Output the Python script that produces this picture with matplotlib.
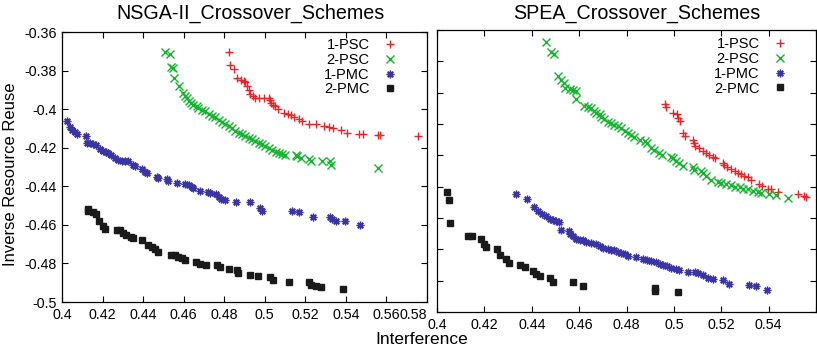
import matplotlib
matplotlib.use("Agg")
import matplotlib.pyplot as plt

plt.rcParams["font.family"] = ["Liberation Sans", "DejaVu Sans"]
plt.rcParams["axes.unicode_minus"] = False

series_names = ["1-PSC", "2-PSC", "1-PMC", "2-PMC"]

# ---- NSGA-II panel ----
nsga_psc1_x = [0.4822, 0.4827, 0.4846, 0.4863, 0.4883, 0.4896, 0.4904, 0.4912, 0.4921, 0.4929,
               0.4942, 0.4954, 0.4970, 0.4995, 0.5020, 0.5025, 0.5031, 0.5041, 0.5048, 0.5064,
               0.5094, 0.5114, 0.5127, 0.5143, 0.5168, 0.5185, 0.5218, 0.5251, 0.5292, 0.5317,
               0.5338, 0.5374, 0.5407, 0.5465, 0.5482, 0.5559, 0.5569, 0.5754]
nsga_psc1_y = [-0.3704, -0.3770, -0.3793, -0.3838, -0.3848, -0.3852, -0.3860, -0.3881, -0.3898, -0.3921,
               -0.3933, -0.3940, -0.3940, -0.3940, -0.3942, -0.3952, -0.3968, -0.3978, -0.3985, -0.3999,
               -0.4020, -0.4023, -0.4030, -0.4042, -0.4051, -0.4060, -0.4077, -0.4077, -0.4089, -0.4094,
               -0.4100, -0.4107, -0.4124, -0.4127, -0.4129, -0.4134, -0.4134, -0.4138]

nsga_psc2_x = [0.4508, 0.4533, 0.4538, 0.4545, 0.4554, 0.4579, 0.4596, 0.4607, 0.4615, 0.4624,
               0.4635, 0.4648, 0.4665, 0.4673, 0.4690, 0.4706, 0.4723, 0.4739, 0.4756, 0.4772,
               0.4789, 0.4805, 0.4822, 0.4838, 0.4855, 0.4871, 0.4888, 0.4904, 0.4921, 0.4937,
               0.4954, 0.4970, 0.4987, 0.5003, 0.5020, 0.5036, 0.5053, 0.5069, 0.5086, 0.5102,
               0.5152, 0.5160, 0.5176, 0.5218, 0.5229, 0.5284, 0.5322, 0.5325, 0.5556]
nsga_psc2_y = [-0.3704, -0.3713, -0.3779, -0.3787, -0.3839, -0.3878, -0.3916, -0.3930, -0.3944, -0.3956,
               -0.3968, -0.3978, -0.3985, -0.3996, -0.4003, -0.4011, -0.4025, -0.4034, -0.4042, -0.4055,
               -0.4065, -0.4077, -0.4086, -0.4100, -0.4112, -0.4121, -0.4129, -0.4138, -0.4147, -0.4155,
               -0.4164, -0.4173, -0.4181, -0.4190, -0.4199, -0.4211, -0.4221, -0.4228, -0.4233, -0.4237,
               -0.4238, -0.4245, -0.4254, -0.4256, -0.4271, -0.4271, -0.4271, -0.4291, -0.4303]

nsga_pmc1_x = [0.4026, 0.4038, 0.4051, 0.4063, 0.4076, 0.4117, 0.4124, 0.4137, 0.4153, 0.4170,
               0.4186, 0.4203, 0.4216, 0.4228, 0.4244, 0.4261, 0.4277, 0.4294, 0.4310, 0.4327,
               0.4351, 0.4360, 0.4393, 0.4409, 0.4417, 0.4467, 0.4475, 0.4516, 0.4525, 0.4569,
               0.4607, 0.4624, 0.4640, 0.4648, 0.4678, 0.4718, 0.4728, 0.4761, 0.4772, 0.4784,
               0.4805, 0.4858, 0.4926, 0.4975, 0.4987, 0.5135, 0.5168, 0.5238, 0.5322, 0.5333,
               0.5350, 0.5396, 0.5470]
nsga_pmc1_y = [-0.4063, -0.4094, -0.4107, -0.4117, -0.4129, -0.4141, -0.4173, -0.4176, -0.4181, -0.4185,
               -0.4204, -0.4216, -0.4221, -0.4225, -0.4238, -0.4251, -0.4263, -0.4268, -0.4271, -0.4271,
               -0.4291, -0.4297, -0.4311, -0.4325, -0.4332, -0.4350, -0.4358, -0.4363, -0.4372, -0.4384,
               -0.4389, -0.4395, -0.4402, -0.4407, -0.4424, -0.4429, -0.4433, -0.4438, -0.4454, -0.4467,
               -0.4473, -0.4481, -0.4481, -0.4511, -0.4528, -0.4528, -0.4533, -0.4559, -0.4559, -0.4568,
               -0.4580, -0.4580, -0.4603]

nsga_pmc2_x = [0.4129, 0.4129, 0.4153, 0.4170, 0.4180, 0.4203, 0.4211, 0.4269, 0.4285, 0.4302,
               0.4315, 0.4338, 0.4351, 0.4393, 0.4426, 0.4442, 0.4459, 0.4475, 0.4536, 0.4558,
               0.4574, 0.4591, 0.4607, 0.4662, 0.4681, 0.4711, 0.4764, 0.4777, 0.4822, 0.4863,
               0.4866, 0.4929, 0.4965, 0.5025, 0.5041, 0.5119, 0.5218, 0.5229, 0.5251, 0.5275,
               0.5388]
nsga_pmc2_y = [-0.4520, -0.4530, -0.4533, -0.4542, -0.4580, -0.4606, -0.4620, -0.4624, -0.4629, -0.4641,
               -0.4655, -0.4662, -0.4669, -0.4679, -0.4702, -0.4714, -0.4724, -0.4740, -0.4754, -0.4757,
               -0.4766, -0.4773, -0.4780, -0.4792, -0.4802, -0.4806, -0.4809, -0.4818, -0.4827, -0.4835,
               -0.4849, -0.4858, -0.4867, -0.4872, -0.4887, -0.4898, -0.4898, -0.4910, -0.4919, -0.4924,
               -0.4932]

# ---- SPEA panel ----
spea_psc1_x = [0.4963, 0.4965, 0.4995, 0.5014, 0.5019, 0.5024, 0.5038, 0.5045, 0.5080, 0.5084,
               0.5091, 0.5108, 0.5122, 0.5136, 0.5150, 0.5164, 0.5175, 0.5206, 0.5213, 0.5223,
               0.5242, 0.5256, 0.5270, 0.5284, 0.5298, 0.5312, 0.5326, 0.5358, 0.5372, 0.5396,
               0.5410, 0.5438, 0.5523, 0.5551, 0.5558]
spea_psc1_y = [-0.3873, -0.3890, -0.3928, -0.3933, -0.3964, -0.3979, -0.4060, -0.4077, -0.4103, -0.4124,
               -0.4139, -0.4156, -0.4171, -0.4188, -0.4199, -0.4209, -0.4220, -0.4248, -0.4263, -0.4273,
               -0.4290, -0.4299, -0.4312, -0.4320, -0.4333, -0.4341, -0.4359, -0.4380, -0.4397, -0.4412,
               -0.4418, -0.4433, -0.4444, -0.4461, -0.4465]

spea_psc2_x = [0.4461, 0.4482, 0.4492, 0.4510, 0.4522, 0.4534, 0.4539, 0.4560, 0.4574, 0.4588,
               0.4588, 0.4619, 0.4637, 0.4651, 0.4661, 0.4672, 0.4686, 0.4693, 0.4707, 0.4721,
               0.4735, 0.4749, 0.4763, 0.4778, 0.4792, 0.4806, 0.4820, 0.4830, 0.4855, 0.4876,
               0.4886, 0.4904, 0.4918, 0.4936, 0.4950, 0.4988, 0.4995, 0.5010, 0.5021, 0.5040,
               0.5080, 0.5083, 0.5115, 0.5122, 0.5136, 0.5157, 0.5185, 0.5199, 0.5220, 0.5242,
               0.5260, 0.5277, 0.5291, 0.5312, 0.5333, 0.5354, 0.5368, 0.5403, 0.5431, 0.5481]
spea_psc2_y = [-0.3475, -0.3538, -0.3553, -0.3692, -0.3720, -0.3737, -0.3773, -0.3779, -0.3783, -0.3790,
               -0.3843, -0.3886, -0.3894, -0.3901, -0.3915, -0.3928, -0.3937, -0.3954, -0.3971, -0.3986,
               -0.3996, -0.4007, -0.4013, -0.4028, -0.4043, -0.4056, -0.4071, -0.4086, -0.4103, -0.4107,
               -0.4124, -0.4150, -0.4167, -0.4184, -0.4201, -0.4209, -0.4220, -0.4235, -0.4252, -0.4269,
               -0.4273, -0.4295, -0.4299, -0.4312, -0.4333, -0.4359, -0.4369, -0.4376, -0.4380, -0.4390,
               -0.4401, -0.4405, -0.4412, -0.4418, -0.4427, -0.4433, -0.4439, -0.4444, -0.4450, -0.4474]

spea_pmc1_x = [0.4332, 0.4380, 0.4408, 0.4426, 0.4444, 0.4461, 0.4475, 0.4489, 0.4503, 0.4513,
               0.4522, 0.4557, 0.4562, 0.4574, 0.4588, 0.4602, 0.4616, 0.4630, 0.4651, 0.4672,
               0.4686, 0.4700, 0.4721, 0.4735, 0.4749, 0.4763, 0.4778, 0.4792, 0.4806, 0.4841,
               0.4869, 0.4886, 0.4904, 0.4925, 0.4942, 0.4953, 0.4970, 0.4988, 0.5010, 0.5021,
               0.5059, 0.5091, 0.5101, 0.5122, 0.5143, 0.5167, 0.5206, 0.5234, 0.5316, 0.5347,
               0.5393]
spea_pmc1_y = [-0.4444, -0.4480, -0.4529, -0.4554, -0.4572, -0.4589, -0.4608, -0.4614, -0.4620, -0.4625,
               -0.4674, -0.4682, -0.4699, -0.4716, -0.4731, -0.4738, -0.4742, -0.4750, -0.4759, -0.4767,
               -0.4780, -0.4789, -0.4795, -0.4802, -0.4806, -0.4816, -0.4823, -0.4831, -0.4840, -0.4848,
               -0.4859, -0.4865, -0.4874, -0.4882, -0.4891, -0.4902, -0.4908, -0.4917, -0.4925, -0.4934,
               -0.4944, -0.4944, -0.4951, -0.4966, -0.4980, -0.4987, -0.4993, -0.5019, -0.5029, -0.5036,
               -0.5057]

spea_pmc2_x = [0.4044, 0.4049, 0.4053, 0.4131, 0.4148, 0.4187, 0.4197, 0.4208, 0.4253, 0.4264,
               0.4290, 0.4304, 0.4352, 0.4370, 0.4405, 0.4416, 0.4436, 0.4478, 0.4489, 0.4576,
               0.4616, 0.4921, 0.4922, 0.5017]
spea_pmc2_y = [-0.4433, -0.4486, -0.4629, -0.4714, -0.4718, -0.4736, -0.4763, -0.4784, -0.4797, -0.4833,
               -0.4863, -0.4885, -0.4897, -0.4912, -0.4938, -0.4955, -0.4972, -0.4980, -0.5008, -0.5010,
               -0.5034, -0.5044, -0.5066, -0.5074]

nsga_xticks = [0.40, 0.42, 0.44, 0.46, 0.48, 0.50, 0.52, 0.54, 0.56, 0.58]
nsga_xlabels = ["0.4", "0.42", "0.44", "0.46", "0.48", "0.5", "0.52", "0.54", "0.56", "0.58"]
nsga_yticks = [-0.36, -0.38, -0.40, -0.42, -0.44, -0.46, -0.48, -0.50]
nsga_ylabels = ["-0.36", "-0.38", "-0.4", "-0.42", "-0.44", "-0.46", "-0.48", "-0.5"]
spea_xticks = [0.40, 0.42, 0.44, 0.46, 0.48, 0.50, 0.52, 0.54, 0.56]
spea_xlabels = ["0.4", "0.42", "0.44", "0.46", "0.48", "0.5", "0.52", "0.54", ""]
spea_yticks = [-0.34, -0.36, -0.38, -0.40, -0.42, -0.44, -0.46, -0.48, -0.50, -0.52]

colors = ["#e8262a", "#14b42e", "#3b35a3", "#1a1a1a"]
markers = ["+", "x", (8, 2, 0), "s"]
msizes = [6, 5.5, 5.5, 5]

fig = plt.figure(figsize=(8.17, 3.51), dpi=100)
ax1 = fig.add_axes([0.0759, 0.1396, 0.4468, 0.769])
ax2 = fig.add_axes([0.5349, 0.1111, 0.4639, 0.8034])

panels = [
    (ax1, [(nsga_psc1_x, nsga_psc1_y), (nsga_psc2_x, nsga_psc2_y),
           (nsga_pmc1_x, nsga_pmc1_y), (nsga_pmc2_x, nsga_pmc2_y)], (0.95, 1.015)),
    (ax2, [(spea_psc1_x, spea_psc1_y), (spea_psc2_x, spea_psc2_y),
           (spea_pmc1_x, spea_pmc1_y), (spea_pmc2_x, spea_pmc2_y)], (0.955, 1.01)),
]

for ax, data, anchor in panels:
    for (xs, ys), name, c, m, s in zip(data, series_names, colors, markers, msizes):
        ax.plot(xs, ys, linestyle="none", marker=m, color=c, markersize=s,
                markeredgewidth=1.0, label=name)
    ax.tick_params(direction="in", top=True, right=True, length=4, width=0.8,
                   labelsize=10.3, pad=4)
    for sp in ax.spines.values():
        sp.set_linewidth(0.9)
    leg = ax.legend(loc="upper right", markerfirst=False, frameon=False,
                    fontsize=10.5, handlelength=1.2, handletextpad=0.8,
                    labelspacing=0.05, borderaxespad=0.3, bbox_to_anchor=anchor)
    for t in leg.get_texts():
        t.set_ha("right")

ax1.set_xlim(0.4, 0.58)
ax1.set_ylim(-0.5, -0.36)
ax1.set_xticks(nsga_xticks)
ax1.set_xticklabels(nsga_xlabels)
ax1.set_yticks(nsga_yticks)
ax1.set_yticklabels(nsga_ylabels)
# the last label sits squeezed against the right panel, as in the original
ax1.get_xticklabels()[-1].set_horizontalalignment("right")

ax2.set_xlim(0.4, 0.56)
ax2.set_ylim(-0.52, -0.34)
ax2.set_xticks(spea_xticks)
ax2.set_xticklabels(spea_xlabels)
ax2.set_yticks(spea_yticks)
ax2.set_yticklabels([])

fig.text(250 / 817, 1 - 13 / 351, "NSGA-II_Crossover_Schemes", ha="center", va="center", fontsize=14.2)
fig.text(637 / 817, 1 - 13 / 351, "SPEA_Crossover_Schemes", ha="center", va="center", fontsize=14.2)
fig.text(422 / 817, 1 - 340 / 351, "Interference", ha="center", va="center", fontsize=12.5)
fig.text(11 / 817, 1 - 174 / 351, "Inverse Resource Reuse", ha="center", va="center",
         rotation=90, fontsize=12)

fig.savefig("out.png", dpi=100)
